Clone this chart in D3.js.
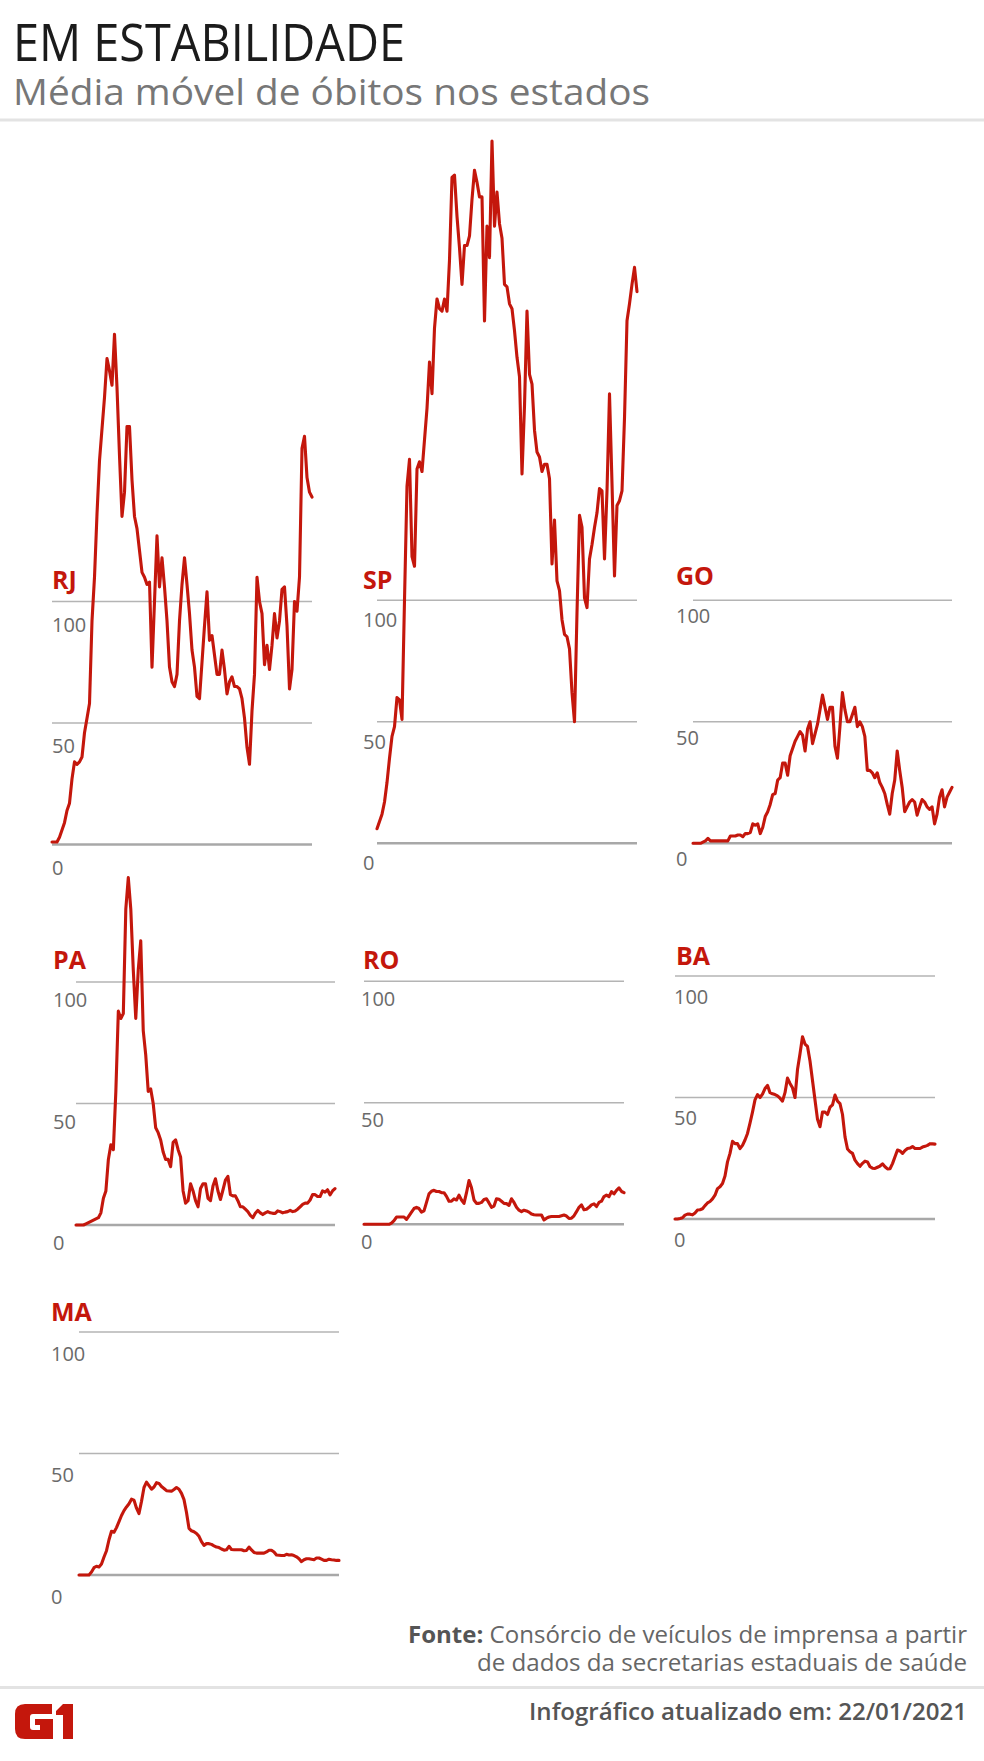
<!DOCTYPE html>
<html><head><meta charset="utf-8">
<script src="https://cdn.jsdelivr.net/npm/d3@7"></script>
<style>html,body{margin:0;padding:0;background:#fff}svg{display:block}</style>
</head><body>
<svg id="chart" width="984" height="1761"></svg>
<script>
// ---- data: 7-day moving average of deaths, sampled every 3 days (Mar 2020 - Jan 2021)
const states = ["RJ","SP","GO","PA","RO","BA","MA"];
const tickValues = [0, 50, 100];
const tickLabels = ["0", "50", "100"];

const rj = [1,1,1,3,6,9,14,17,27,34,
33,34,36,46,52,58,92,110,136,158,
171,184,200,195,189,210,188,160,135,145,
172,172,150,135,130,121,112,110,107,108,
73,100,127,106,118,106,92,73,67,65,
70,92,107,118,107,95,80,73,61,60,
75,90,104,84,86,78,70,70,80,72,
62,67,69,65,65,64,60,52,40,33,
55,70,110,100,95,74,82,72,82,95,
85,92,105,106,90,64,72,100,96,110,
163,168,151,145,143];

const sp = [6,9,12,17,25,35,44,48,60,59,
51,100,147,158,118,114,154,157,153,166,
179,198,185,212,224,220,219,224,219,240,
274,275,258,245,230,246,246,250,265,277,
272,266,266,215,254,241,289,254,268,255,
249,230,229,222,220,211,200,192,152,180,
219,193,189,170,161,159,153,156,156,150,
115,133,108,104,92,86,85,80,62,50,
95,135,130,101,97,117,123,130,136,146,
145,117,145,185,148,110,139,141,145,175,
215,222,230,237,227];

const go = [0,0,0,0,0.5,1,2,1,1,1,
1,1,1,1,1,3,3,3,3.4,3.4,
2.7,4,4,4.4,8,7.5,8,4,6.5,11,
13,16,20,20.5,26,27,33,33,28,36,
39,42,44,46,44.5,38,47,50,41,45,
49,55,61,56,51,56,56,40,35,48,
62,55,50,50,53,56,48,50,48,44,
30,30,29,27,29,25,23,20.5,16,12,
20.5,26,38,30,23,13,15,17,18,17,
11.6,15,18,17,15,14,15,8,12,19,
22,15,19,21,23];

const pa = [0,0,0,0,0.5,1,1.5,2,2.5,3,
5,11,14,27,33,31,55,88,85,87,
130,143,130,105,85,105,117,80,70,55,
56,50,40,38,35,30,27,27,24,34,
35,31,28,14,9,10,17,14,10,7.5,
15,17,17,11,10,16,19,14,10.5,14.4,
18.5,20,12.5,12,12,10,7.5,7.5,6.5,5.5,
4,3,4.8,6,5,4.3,5,5.5,5,4.8,
4.8,5.8,5.5,5,5.3,5.5,6,5.5,5.8,6.5,
7.5,8.5,9,9,10.3,12.5,12.5,11.7,11.7,14,
13.5,14.5,12.4,14,15];

const ro = [0,0,0,0,0,0,0,0,0,0,
0,0.5,1.5,3,3,3,3,2,3.5,5,
6.5,7,6.5,5,5.5,9,12.5,13.6,14,13.5,
13.5,13,13,11.5,9.5,9.5,10.5,10,12,10,
8.6,13,18,15,10,8.6,8.6,9,10.2,10.5,
8.8,7,7.5,10.5,10.3,9.5,8.6,8.5,7.8,10.5,
9,7,5.8,5.2,5.8,5.5,5,4.2,3.9,3.8,
3.8,3.8,1.8,2.5,3,3.2,3.2,3.2,3.2,3.5,
3.8,3.4,2.4,2.5,3.5,5.2,7,8,6,6.2,
7,8,8.4,7.3,9,9.5,11.4,12,11.4,13.4,
12.5,14,15,13.5,13];

const ba = [0,0,0.2,0.5,1.6,2,2,1.7,2.5,3.7,
3.8,4.2,5.5,6.6,7.2,8.3,9.8,12.5,13.3,14.6,
17.7,23.5,27,32,31,31,29,30.3,32.5,35.2,
39.5,44,49,51.2,50,51.4,53.7,55,52,51.5,
51.2,50.7,49.7,48.5,52,58,55.8,54,50,61.5,
68,75,72,71,65,57,49,41,38,44,
44,43,46,47,51,48.5,47.5,43,33.8,28.8,
27.7,27,24.2,22.8,21.7,22.9,23.8,23.5,21.5,20.9,
20.8,21.3,21.8,22.7,21.5,20.6,20.7,22.8,25.6,28.4,
28,27,28.2,29,29.2,29.8,29,29,29,29.6,
29.9,30.3,31,30.9,30.8];

const ma = [0,0,0,0,0,1.2,3,3.6,3.3,4.5,
7.4,10,14.5,18,17.6,19.5,22,24.5,26.5,28,
29.3,31.2,30.8,27.5,25.3,30.3,36,38.2,36.8,35.3,
36.2,38,37.7,36.4,35.6,34.7,34.6,34.5,35.2,36,
35.3,33.6,31,25.7,19.2,18.2,17.8,17.1,15.9,13.7,
12.2,12.9,12.9,12.6,12,11.5,11.3,10.7,10.2,10.4,
11.8,10.5,10.4,10.4,10.4,10.4,10,10.1,11.5,10.3,
9.3,9,9,9,9,9.5,10.2,10.2,9.5,8.2,
8.1,8,8,8.5,8.2,8.3,8,7.5,6.7,5.5,
6.3,6.7,6.7,6.5,6.3,7,7,6.5,6,6,
6.5,6.3,6.2,6,6];

const seriesByState = {RJ: rj, SP: sp, GO: go, PA: pa, RO: ro, BA: ba, MA: ma};

// ---- layout (positions only)
const layout = {
  RJ: {x0: 52,  x1: 312, y0: 844.5, lx: 52,  ly: 589,  tx: 52,  tdy: 30},
  SP: {x0: 377, x1: 637, y0: 843.3, lx: 363, ly: 588.6,tx: 363, tdy: 27},
  GO: {x0: 693, x1: 952, y0: 843.3, lx: 676, ly: 585,  tx: 676, tdy: 23},
  PA: {x0: 76,  x1: 335, y0: 1225,  lx: 53,  ly: 969,  tx: 53,  tdy: 25},
  RO: {x0: 364, x1: 624, y0: 1224.3,lx: 363, ly: 969.3,tx: 361, tdy: 24.5},
  BA: {x0: 675, x1: 935, y0: 1219,  lx: 676, ly: 965,  tx: 674, tdy: 27.5},
  MA: {x0: 79,  x1: 339, y0: 1575,  lx: 51,  ly: 1321, tx: 51,  tdy: 28.5}
};
const pxPer100 = 243;
const RED = "#c4170c";

const svg = d3.select("#chart");
svg.append("rect").attr("width", 984).attr("height", 1761).attr("fill", "#fff");

// Header
svg.append("text").attr("x", 13).attr("y", 61)
  .attr("font-family", "'Open Sans', sans-serif").attr("font-size", 52).attr("font-weight", 400)
  .attr("fill", "#1b1b1b").attr("textLength", 392).attr("lengthAdjust", "spacingAndGlyphs")
  .text("EM ESTABILIDADE");
svg.append("text").attr("x", 13).attr("y", 105)
  .attr("font-family", "'Open Sans', sans-serif").attr("font-size", 37).attr("font-weight", 400)
  .attr("fill", "#777").attr("textLength", 637).attr("lengthAdjust", "spacingAndGlyphs")
  .text("Média móvel de óbitos nos estados");
svg.append("rect").attr("x", 0).attr("y", 118.5).attr("width", 984).attr("height", 3).attr("fill", "#e3e3e3");

// Panels
states.forEach(st => {
  const L = layout[st];
  const data = seriesByState[st];
  const g = svg.append("g").attr("class", "panel-" + st);
  const x = d3.scaleLinear().domain([0, data.length - 1]).range([L.x0, L.x1]);
  const y = d3.scaleLinear().domain([0, 100]).range([L.y0, L.y0 - pxPer100]);

  // grid lines
  g.selectAll("line.grid").data(tickValues).join("line")
    .attr("class", "grid")
    .attr("x1", L.x0).attr("x2", L.x1)
    .attr("y1", d => y(d)).attr("y2", d => y(d))
    .attr("stroke", d => d === 0 ? "#a8a8a8" : "#b4b4b4")
    .attr("stroke-width", d => d === 0 ? 2.4 : 1.6);

  // tick labels
  g.selectAll("text.tick").data(tickValues).join("text")
    .attr("class", "tick")
    .attr("x", L.tx).attr("y", d => y(d) + L.tdy)
    .attr("font-family", "'Open Sans', sans-serif").attr("font-size", 20)
    .attr("fill", "#6a6a6a")
    .text((d, i) => tickLabels[i]);

  // state label
  g.append("text").attr("x", L.lx).attr("y", L.ly)
    .attr("font-family", "'Open Sans', sans-serif").attr("font-size", 25).attr("font-weight", 700)
    .attr("fill", RED).text(st);

  // line
  const line = d3.line().x((d, i) => x(i)).y(d => y(d));
  g.append("path").datum(data).attr("d", line)
    .attr("fill", "none").attr("stroke", RED).attr("stroke-width", 3.1)
    .attr("stroke-linejoin", "round").attr("stroke-linecap", "round");
});

// Footer
const fonte = svg.append("text").attr("x", 967).attr("y", 1643).attr("text-anchor", "end")
  .attr("font-family", "'Open Sans', sans-serif").attr("font-size", 23).attr("fill", "#666")
  .attr("textLength", 559).attr("lengthAdjust", "spacingAndGlyphs");
fonte.append("tspan").attr("font-weight", 700).attr("fill", "#555").text("Fonte:");
fonte.append("tspan").text(" Consórcio de veículos de imprensa a partir");
svg.append("text").attr("x", 967).attr("y", 1671).attr("text-anchor", "end")
  .attr("font-family", "'Open Sans', sans-serif").attr("font-size", 23).attr("fill", "#666")
  .attr("textLength", 490).attr("lengthAdjust", "spacingAndGlyphs")
  .text("de dados da secretarias estaduais de saúde");
svg.append("rect").attr("x", 0).attr("y", 1686).attr("width", 984).attr("height", 3).attr("fill", "#e3e3e3");
svg.append("text").attr("x", 967).attr("y", 1720).attr("text-anchor", "end")
  .attr("font-family", "'Open Sans', sans-serif").attr("font-size", 24).attr("font-weight", 600)
  .attr("fill", "#555").attr("textLength", 438).attr("lengthAdjust", "spacingAndGlyphs")
  .text("Infográfico atualizado em: 22/01/2021");

// G1 logo
const logo = svg.append("g").attr("transform", "translate(15,1704)").attr("fill", RED);
logo.append("path").attr("d",
  "M10,0 H37 V10 H18 Q15,10 15,13 V23 Q15,26 18,26 H25 V21 H20 V15 H38 V35 H10 Q0,35 0,25 V10 Q0,0 10,0 Z");
logo.append("path").attr("d", "M41,7 L48,0 H58 V35 H48 V11 H41 Z");
</script>
</body></html>
